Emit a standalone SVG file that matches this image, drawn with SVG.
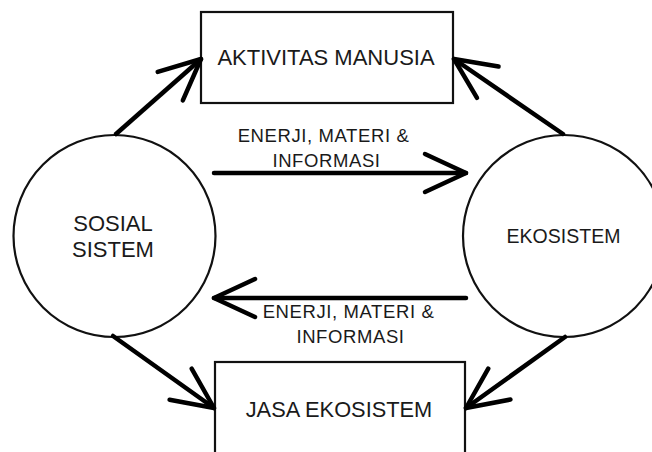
<svg xmlns="http://www.w3.org/2000/svg" width="652" height="452" viewBox="0 0 652 452">
<style>
  .node { fill: #fff; stroke: #111; stroke-width: 2.2; }
  .lbl { font-family: "Liberation Sans", Arial, sans-serif; fill: #1a1a1a; text-anchor: middle; }
  .conn { stroke: #000; stroke-width: 4.5; fill: none; stroke-linecap: round; }
</style>
<defs>
  <marker id="open" markerUnits="userSpaceOnUse" orient="auto" refX="0" refY="0" markerWidth="60" markerHeight="60" overflow="visible">
    <path d="M-41,-19 L0,0 L-41,19" fill="none" stroke="#000" stroke-width="4.5" stroke-linecap="round" stroke-linejoin="round"/>
  </marker>
</defs>
<rect width="652" height="452" fill="#fff"/>
<g id="aktivitas-manusia">
  <rect class="node" x="201" y="12" width="252" height="91"/>
  <text class="lbl" x="326" y="65" font-size="22">AKTIVITAS MANUSIA</text>
</g>
<g id="jasa-ekosistem">
  <rect class="node" x="215" y="362" width="250" height="110"/>
  <text class="lbl" x="339" y="417" font-size="21.8">JASA EKOSISTEM</text>
</g>
<g id="sosial-sistem">
  <circle class="node" cx="114.5" cy="236" r="101"/>
  <text class="lbl" x="113" y="231" font-size="22">SOSIAL</text>
  <text class="lbl" x="113" y="257" font-size="22">SISTEM</text>
</g>
<g id="ekosistem">
  <circle class="node" cx="564" cy="236" r="101"/>
  <text class="lbl" x="563.5" y="243" font-size="19.5">EKOSISTEM</text>
</g>
<g id="connectors">
  <line class="conn" x1="214" y1="173" x2="466" y2="173" marker-end="url(#open)"/>
  <text class="lbl" x="323.5" y="142" font-size="18.5" letter-spacing="0.6">ENERJI, MATERI &amp;</text>
  <text class="lbl" x="326.5" y="167" font-size="18.5" letter-spacing="0.6">INFORMASI</text>
  <line class="conn" x1="466" y1="298" x2="214" y2="298" marker-end="url(#open)"/>
  <text class="lbl" x="348.5" y="318" font-size="18.5" letter-spacing="0.6">ENERJI, MATERI &amp;</text>
  <text class="lbl" x="350.5" y="343" font-size="18.5" letter-spacing="0.6">INFORMASI</text>
  <line class="conn" x1="116" y1="134" x2="201" y2="59" marker-end="url(#open)"/>
  <line class="conn" x1="563" y1="134" x2="454" y2="59" marker-end="url(#open)"/>
  <line class="conn" x1="113" y1="336" x2="214" y2="408" marker-end="url(#open)"/>
  <line class="conn" x1="565" y1="337" x2="466" y2="408" marker-end="url(#open)"/>
</g>
</svg>
